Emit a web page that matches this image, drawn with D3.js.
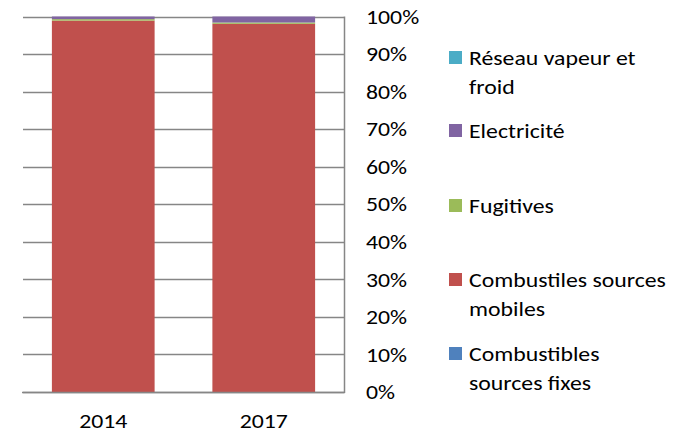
<!DOCTYPE html>
<html>
<head>
<meta charset="utf-8">
<script src="https://cdn.jsdelivr.net/npm/d3@7"></script>
<style>
  body { margin: 0; background: #fff; }
  text { font-family: Carlito, "Liberation Sans", sans-serif; fill: #000; }
</style>
</head>
<body>
<svg id="chart" width="684" height="435"></svg>
<script>
// Data (share of emissions, %)
const years = ['2014', '2017'];
const seriesNames = [
  'Combustibles sources fixes',
  'Combustiles sources mobiles',
  'Fugitives',
  'Electricité',
  'Réseau vapeur et froid'
];
const fixes = [0, 0];
const mobiles = [98.9, 98.05];
const fugitives = [0.4, 0.35];
const electricite = [0.7, 1.6];
const reseau = [0, 0];
const yTicks = [0, 10, 20, 30, 40, 50, 60, 70, 80, 90, 100];

// Legend labels, wrapped as in the original
const legendLines = [
  ['Réseau vapeur et', 'froid'],
  ['Electricité'],
  ['Fugitives'],
  ['Combustiles sources', 'mobiles'],
  ['Combustibles', 'sources fixes']
];

const colors = ['#4F81BD', '#C0504D', '#9BBB59', '#8064A2', '#4BACC6'];

const rows = years.map((y, i) => ({
  year: y,
  s0: fixes[i], s1: mobiles[i], s2: fugitives[i], s3: electricite[i], s4: reseau[i]
}));
const keys = ['s0', 's1', 's2', 's3', 's4'];

const svg = d3.select('#chart');

const plotLeft = 23, plotRight = 344, plotTop = 16.5, plotBottom = 392;
const fontSize = 20.5;
// the original text is a bit stretched sideways
const stretch = 'scale(1.16,1)';

const x = d3.scaleBand().domain(years).range([plotLeft, plotRight]).paddingInner(0.36).paddingOuter(0.18);
const y = d3.scaleLinear().domain([0, 100]).range([plotBottom, plotTop]);

// Gridlines
svg.append('g')
  .selectAll('line')
  .data(yTicks)
  .enter()
  .append('line')
  .attr('x1', plotLeft)
  .attr('x2', plotRight)
  .attr('y1', d => Math.round(y(d)) + 0.5)
  .attr('y2', d => Math.round(y(d)) + 0.5)
  .attr('stroke', '#868686')
  .attr('stroke-width', 1.5);

// Stacked bars
const stacked = d3.stack().keys(keys)(rows);
svg.append('g')
  .selectAll('g')
  .data(stacked)
  .enter()
  .append('g')
  .attr('fill', (d, i) => colors[i])
  .selectAll('rect')
  .data(d => d)
  .enter()
  .append('rect')
  .attr('x', d => x(d.data.year))
  .attr('width', x.bandwidth())
  .attr('y', d => y(d[1]))
  .attr('height', d => y(d[0]) - y(d[1]));

// Right axis line
svg.append('line')
  .attr('x1', plotRight + 0.5).attr('x2', plotRight + 0.5)
  .attr('y1', plotTop).attr('y2', plotBottom + 1)
  .attr('stroke', '#868686')
  .attr('stroke-width', 1.5);

// Bottom axis line
svg.append('line')
  .attr('x1', plotLeft - 1).attr('x2', plotRight + 1)
  .attr('y1', Math.round(y(0)) + 0.5).attr('y2', Math.round(y(0)) + 0.5)
  .attr('stroke', '#868686')
  .attr('stroke-width', 1.5);

// Y tick labels
svg.append('g')
  .selectAll('text')
  .data(yTicks)
  .enter()
  .append('text')
  .attr('transform', d => 'translate(366,' + y(d) + ') ' + stretch)
  .attr('dy', '0.35em')
  .attr('font-size', fontSize)
  .text(d => d + '%');

// X labels
svg.append('g')
  .selectAll('text')
  .data(years)
  .enter()
  .append('text')
  .attr('transform', d => 'translate(' + (x(d) + x.bandwidth() / 2) + ',421) ' + stretch)
  .attr('dy', '0.35em')
  .attr('text-anchor', 'middle')
  .attr('font-size', fontSize)
  .text(d => d);

// Legend (top to bottom = reversed series)
const legendColors = colors.slice().reverse();
const legendY = [58, 131, 206, 280, 354];
const legend = svg.append('g')
  .selectAll('g')
  .data(legendLines)
  .enter()
  .append('g')
  .attr('transform', (d, i) => 'translate(449,' + legendY[i] + ')');

legend.append('rect')
  .attr('x', 0).attr('y', -7)
  .attr('width', 13).attr('height', 13)
  .attr('fill', (d, i) => legendColors[i]);

legend.append('text')
  .attr('transform', 'translate(20,0) ' + stretch)
  .attr('font-size', fontSize)
  .selectAll('tspan')
  .data(d => d)
  .enter()
  .append('tspan')
  .attr('x', 0)
  .attr('y', (d, j) => j * 29)
  .attr('dy', '0.35em')
  .text(d => d);
</script>
</body>
</html>
